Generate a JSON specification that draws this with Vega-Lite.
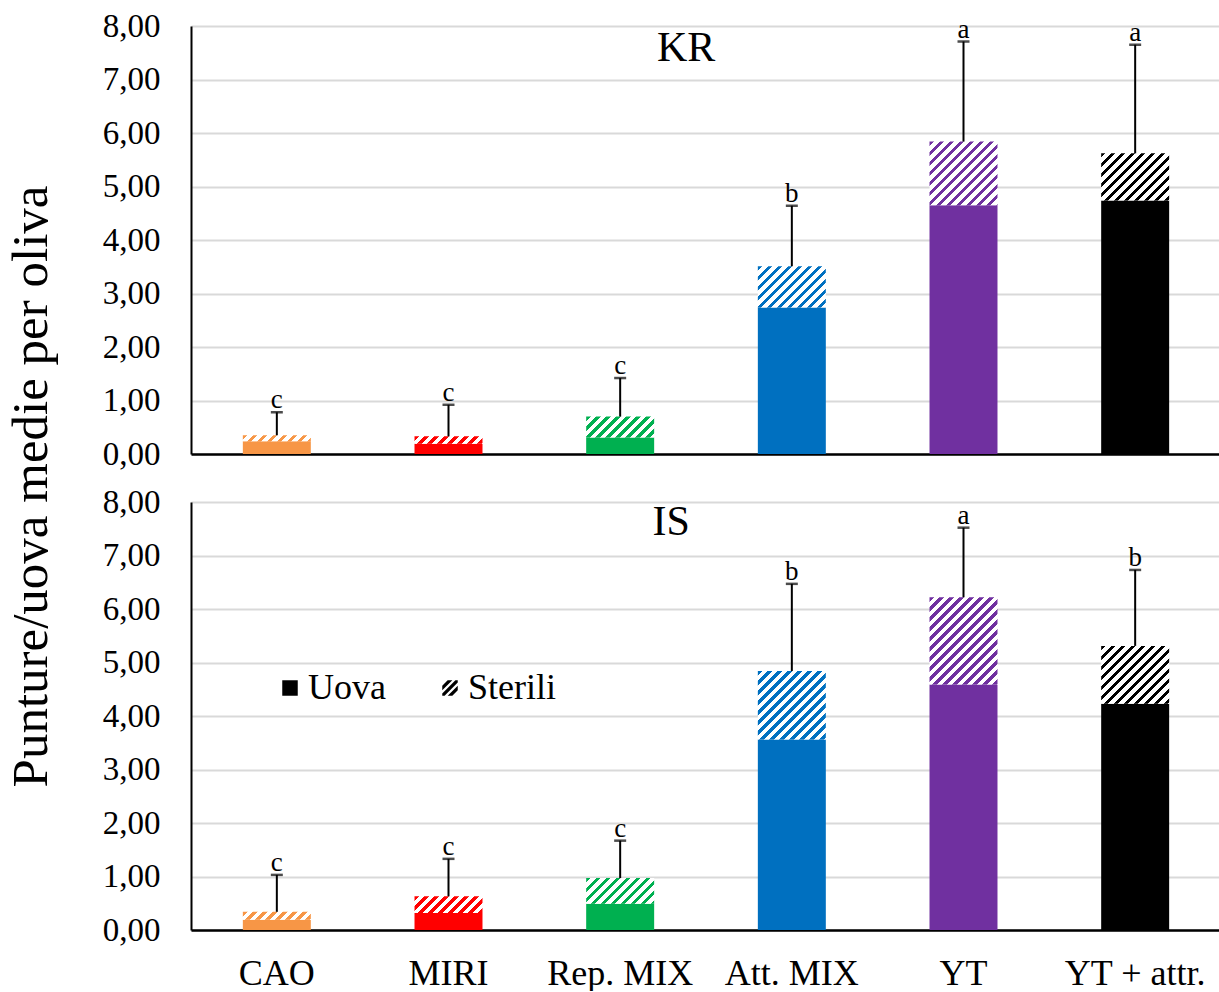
{
"$schema": "https://vega.github.io/schema/vega-lite/v6.json",
"background": "white",
"padding": {"left": 5, "top": 10, "right": 0, "bottom": 0},
"bounds": "flush",
"spacing": 48,
"config": {
  "font": "Liberation Serif",
  "view": {"stroke": null},
  "axis": {"labelFont": "Liberation Serif", "titleFont": "Liberation Serif", "labelColor": "black", "titleColor": "black"},
  "legend": {"labelFont": "Liberation Serif"}
},
"data": {"values": [
  {"panel": "KR", "treatment": "CAO", "uova": 0.24, "totale": 0.35, "errore": 0.78, "lettera": "c"},
  {"panel": "KR", "treatment": "MIRI", "uova": 0.19, "totale": 0.33, "errore": 0.92, "lettera": "c"},
  {"panel": "KR", "treatment": "Rep. MIX", "uova": 0.31, "totale": 0.70, "errore": 1.42, "lettera": "c"},
  {"panel": "KR", "treatment": "Att. MIX", "uova": 2.74, "totale": 3.51, "errore": 4.64, "lettera": "b"},
  {"panel": "KR", "treatment": "YT", "uova": 4.65, "totale": 5.84, "errore": 7.71, "lettera": "a"},
  {"panel": "KR", "treatment": "YT + attr.", "uova": 4.74, "totale": 5.62, "errore": 7.65, "lettera": "a"},
  {"panel": "IS", "treatment": "CAO", "uova": 0.19, "totale": 0.34, "errore": 1.03, "lettera": "c"},
  {"panel": "IS", "treatment": "MIRI", "uova": 0.32, "totale": 0.63, "errore": 1.33, "lettera": "c"},
  {"panel": "IS", "treatment": "Rep. MIX", "uova": 0.49, "totale": 0.97, "errore": 1.67, "lettera": "c"},
  {"panel": "IS", "treatment": "Att. MIX", "uova": 3.56, "totale": 4.84, "errore": 6.47, "lettera": "b"},
  {"panel": "IS", "treatment": "YT", "uova": 4.59, "totale": 6.22, "errore": 7.52, "lettera": "a"},
  {"panel": "IS", "treatment": "YT + attr.", "uova": 4.23, "totale": 5.31, "errore": 6.73, "lettera": "b"}
]},
"vconcat": [
{
  "width": 1030, "height": 428,
  "transform": [{"filter": "datum.panel === 'KR'"}],
  "encoding": {
    "x": {"field": "treatment", "type": "nominal", "sort": ["CAO", "MIRI", "Rep. MIX", "Att. MIX", "YT", "YT + attr."],
          "scale": {"paddingInner": 0.604, "paddingOuter": 0.302},
          "axis": {"labels": false, "ticks": false, "title": null, "domainColor": "black", "domainWidth": 2.5, "grid": false}}
  },
  "layer": [
    {"mark": {"type": "bar", "stroke": null},
     "encoding": {
       "y": {"field": "uova", "type": "quantitative", "scale": {"domain": [0, 8], "nice": false},
             "axis": {"values": [0, 1, 2, 3, 4, 5, 6, 7, 8], "labelExpr": "replace(format(datum.value, '.2f'), '.', ',')",
                      "labelFont": "Liberation Serif", "labelFontSize": 33, "labelPadding": 31, "ticks": false, "domainColor": "black", "domainWidth": 2,
                      "gridColor": "#d9d9d9", "gridWidth": 2, "title": "Punture/uova medie per oliva", "titleFont": "Liberation Serif", "titleFontSize": 51,
                      "titleFontWeight": "normal", "titlePadding": 45, "titleY": 460}},
       "fill": {"field": "treatment", "type": "nominal",
                "scale": {"domain": ["CAO", "MIRI", "Rep. MIX", "Att. MIX", "YT", "YT + attr."], "range": ["#F79646", "#FF0000", "#00B050", "#0070C0", "#7030A0", "#000000"]},
                "legend": null}
     }},
    {"mark": {"type": "bar", "stroke": null},
     "encoding": {
       "y": {"field": "uova", "type": "quantitative"},
       "y2": {"field": "totale"},
       "fill": {"condition": [
         {"test": "datum.treatment === 'CAO'", "value": {"gradient": "linear", "x1": 0, "y1": 0, "x2": 2.3355, "y2": 0.2021, "stops": [
{"offset":0,"color":"#F79646"},{"offset":0.028,"color":"#F79646"},{"offset":0.028,"color":"#fff"},{"offset":0.0625,"color":"#fff"},
{"offset":0.0625,"color":"#F79646"},{"offset":0.0905,"color":"#F79646"},{"offset":0.0905,"color":"#fff"},{"offset":0.125,"color":"#fff"},
{"offset":0.125,"color":"#F79646"},{"offset":0.153,"color":"#F79646"},{"offset":0.153,"color":"#fff"},{"offset":0.1875,"color":"#fff"},
{"offset":0.1875,"color":"#F79646"},{"offset":0.2155,"color":"#F79646"},{"offset":0.2155,"color":"#fff"},{"offset":0.25,"color":"#fff"},
{"offset":0.25,"color":"#F79646"},{"offset":0.278,"color":"#F79646"},{"offset":0.278,"color":"#fff"},{"offset":0.3125,"color":"#fff"},
{"offset":0.3125,"color":"#F79646"},{"offset":0.3405,"color":"#F79646"},{"offset":0.3405,"color":"#fff"},{"offset":0.375,"color":"#fff"},
{"offset":0.375,"color":"#F79646"},{"offset":0.403,"color":"#F79646"},{"offset":0.403,"color":"#fff"},{"offset":0.4375,"color":"#fff"},
{"offset":0.4375,"color":"#F79646"},{"offset":0.4655,"color":"#F79646"},{"offset":0.4655,"color":"#fff"},{"offset":0.5,"color":"#fff"},
{"offset":0.5,"color":"#F79646"},{"offset":0.528,"color":"#F79646"},{"offset":0.528,"color":"#fff"},{"offset":0.5625,"color":"#fff"}
         ]}},
         {"test": "datum.treatment === 'MIRI'", "value": {"gradient": "linear", "x1": 0, "y1": 0, "x2": 2.3247, "y2": 0.2561, "stops": [
{"offset":0,"color":"#FF0000"},{"offset":0.028,"color":"#FF0000"},{"offset":0.028,"color":"#fff"},{"offset":0.0625,"color":"#fff"},
{"offset":0.0625,"color":"#FF0000"},{"offset":0.0905,"color":"#FF0000"},{"offset":0.0905,"color":"#fff"},{"offset":0.125,"color":"#fff"},
{"offset":0.125,"color":"#FF0000"},{"offset":0.153,"color":"#FF0000"},{"offset":0.153,"color":"#fff"},{"offset":0.1875,"color":"#fff"},
{"offset":0.1875,"color":"#FF0000"},{"offset":0.2155,"color":"#FF0000"},{"offset":0.2155,"color":"#fff"},{"offset":0.25,"color":"#fff"},
{"offset":0.25,"color":"#FF0000"},{"offset":0.278,"color":"#FF0000"},{"offset":0.278,"color":"#fff"},{"offset":0.3125,"color":"#fff"},
{"offset":0.3125,"color":"#FF0000"},{"offset":0.3405,"color":"#FF0000"},{"offset":0.3405,"color":"#fff"},{"offset":0.375,"color":"#fff"},
{"offset":0.375,"color":"#FF0000"},{"offset":0.403,"color":"#FF0000"},{"offset":0.403,"color":"#fff"},{"offset":0.4375,"color":"#fff"},
{"offset":0.4375,"color":"#FF0000"},{"offset":0.4655,"color":"#FF0000"},{"offset":0.4655,"color":"#fff"},{"offset":0.5,"color":"#fff"},
{"offset":0.5,"color":"#FF0000"},{"offset":0.528,"color":"#FF0000"},{"offset":0.528,"color":"#fff"},{"offset":0.5625,"color":"#fff"}
         ]}},
         {"test": "datum.treatment === 'Rep. MIX'", "value": {"gradient": "linear", "x1": 0, "y1": 0, "x2": 2.1505, "y2": 0.6599, "stops": [
{"offset":0,"color":"#00B050"},{"offset":0.028,"color":"#00B050"},{"offset":0.028,"color":"#fff"},{"offset":0.0625,"color":"#fff"},
{"offset":0.0625,"color":"#00B050"},{"offset":0.0905,"color":"#00B050"},{"offset":0.0905,"color":"#fff"},{"offset":0.125,"color":"#fff"},
{"offset":0.125,"color":"#00B050"},{"offset":0.153,"color":"#00B050"},{"offset":0.153,"color":"#fff"},{"offset":0.1875,"color":"#fff"},
{"offset":0.1875,"color":"#00B050"},{"offset":0.2155,"color":"#00B050"},{"offset":0.2155,"color":"#fff"},{"offset":0.25,"color":"#fff"},
{"offset":0.25,"color":"#00B050"},{"offset":0.278,"color":"#00B050"},{"offset":0.278,"color":"#fff"},{"offset":0.3125,"color":"#fff"},
{"offset":0.3125,"color":"#00B050"},{"offset":0.3405,"color":"#00B050"},{"offset":0.3405,"color":"#fff"},{"offset":0.375,"color":"#fff"},
{"offset":0.375,"color":"#00B050"},{"offset":0.403,"color":"#00B050"},{"offset":0.403,"color":"#fff"},{"offset":0.4375,"color":"#fff"},
{"offset":0.4375,"color":"#00B050"},{"offset":0.4655,"color":"#00B050"},{"offset":0.4655,"color":"#fff"},{"offset":0.5,"color":"#fff"},
{"offset":0.5,"color":"#00B050"},{"offset":0.528,"color":"#00B050"},{"offset":0.528,"color":"#fff"},{"offset":0.5625,"color":"#fff"},
{"offset":0.5625,"color":"#00B050"},{"offset":0.5905,"color":"#00B050"},{"offset":0.5905,"color":"#fff"},{"offset":0.625,"color":"#fff"}
         ]}},
         {"test": "datum.treatment === 'Att. MIX'", "value": {"gradient": "linear", "x1": 0, "y1": 0, "x2": 1.7212, "y2": 1.0427, "stops": [
{"offset":0,"color":"#0070C0"},{"offset":0.028,"color":"#0070C0"},{"offset":0.028,"color":"#fff"},{"offset":0.0625,"color":"#fff"},
{"offset":0.0625,"color":"#0070C0"},{"offset":0.0905,"color":"#0070C0"},{"offset":0.0905,"color":"#fff"},{"offset":0.125,"color":"#fff"},
{"offset":0.125,"color":"#0070C0"},{"offset":0.153,"color":"#0070C0"},{"offset":0.153,"color":"#fff"},{"offset":0.1875,"color":"#fff"},
{"offset":0.1875,"color":"#0070C0"},{"offset":0.2155,"color":"#0070C0"},{"offset":0.2155,"color":"#fff"},{"offset":0.25,"color":"#fff"},
{"offset":0.25,"color":"#0070C0"},{"offset":0.278,"color":"#0070C0"},{"offset":0.278,"color":"#fff"},{"offset":0.3125,"color":"#fff"},
{"offset":0.3125,"color":"#0070C0"},{"offset":0.3405,"color":"#0070C0"},{"offset":0.3405,"color":"#fff"},{"offset":0.375,"color":"#fff"},
{"offset":0.375,"color":"#0070C0"},{"offset":0.403,"color":"#0070C0"},{"offset":0.403,"color":"#fff"},{"offset":0.4375,"color":"#fff"},
{"offset":0.4375,"color":"#0070C0"},{"offset":0.4655,"color":"#0070C0"},{"offset":0.4655,"color":"#fff"},{"offset":0.5,"color":"#fff"},
{"offset":0.5,"color":"#0070C0"},{"offset":0.528,"color":"#0070C0"},{"offset":0.528,"color":"#fff"},{"offset":0.5625,"color":"#fff"},
{"offset":0.5625,"color":"#0070C0"},{"offset":0.5905,"color":"#0070C0"},{"offset":0.5905,"color":"#fff"},{"offset":0.625,"color":"#fff"},
{"offset":0.625,"color":"#0070C0"},{"offset":0.653,"color":"#0070C0"},{"offset":0.653,"color":"#fff"},{"offset":0.6875,"color":"#fff"},
{"offset":0.6875,"color":"#0070C0"},{"offset":0.7155,"color":"#0070C0"},{"offset":0.7155,"color":"#fff"},{"offset":0.75,"color":"#fff"}
         ]}},
         {"test": "datum.treatment === 'YT'", "value": {"gradient": "linear", "x1": 0, "y1": 0, "x2": 1.2539, "y2": 1.1739, "stops": [
{"offset":0,"color":"#7030A0"},{"offset":0.028,"color":"#7030A0"},{"offset":0.028,"color":"#fff"},{"offset":0.0625,"color":"#fff"},
{"offset":0.0625,"color":"#7030A0"},{"offset":0.0905,"color":"#7030A0"},{"offset":0.0905,"color":"#fff"},{"offset":0.125,"color":"#fff"},
{"offset":0.125,"color":"#7030A0"},{"offset":0.153,"color":"#7030A0"},{"offset":0.153,"color":"#fff"},{"offset":0.1875,"color":"#fff"},
{"offset":0.1875,"color":"#7030A0"},{"offset":0.2155,"color":"#7030A0"},{"offset":0.2155,"color":"#fff"},{"offset":0.25,"color":"#fff"},
{"offset":0.25,"color":"#7030A0"},{"offset":0.278,"color":"#7030A0"},{"offset":0.278,"color":"#fff"},{"offset":0.3125,"color":"#fff"},
{"offset":0.3125,"color":"#7030A0"},{"offset":0.3405,"color":"#7030A0"},{"offset":0.3405,"color":"#fff"},{"offset":0.375,"color":"#fff"},
{"offset":0.375,"color":"#7030A0"},{"offset":0.403,"color":"#7030A0"},{"offset":0.403,"color":"#fff"},{"offset":0.4375,"color":"#fff"},
{"offset":0.4375,"color":"#7030A0"},{"offset":0.4655,"color":"#7030A0"},{"offset":0.4655,"color":"#fff"},{"offset":0.5,"color":"#fff"},
{"offset":0.5,"color":"#7030A0"},{"offset":0.528,"color":"#7030A0"},{"offset":0.528,"color":"#fff"},{"offset":0.5625,"color":"#fff"},
{"offset":0.5625,"color":"#7030A0"},{"offset":0.5905,"color":"#7030A0"},{"offset":0.5905,"color":"#fff"},{"offset":0.625,"color":"#fff"},
{"offset":0.625,"color":"#7030A0"},{"offset":0.653,"color":"#7030A0"},{"offset":0.653,"color":"#fff"},{"offset":0.6875,"color":"#fff"},
{"offset":0.6875,"color":"#7030A0"},{"offset":0.7155,"color":"#7030A0"},{"offset":0.7155,"color":"#fff"},{"offset":0.75,"color":"#fff"},
{"offset":0.75,"color":"#7030A0"},{"offset":0.778,"color":"#7030A0"},{"offset":0.778,"color":"#fff"},{"offset":0.8125,"color":"#fff"},
{"offset":0.8125,"color":"#7030A0"},{"offset":0.8405,"color":"#7030A0"},{"offset":0.8405,"color":"#fff"},{"offset":0.875,"color":"#fff"},
{"offset":0.875,"color":"#7030A0"},{"offset":0.903,"color":"#7030A0"},{"offset":0.903,"color":"#fff"},{"offset":0.9375,"color":"#fff"}
         ]}},
         {"test": "datum.treatment === 'YT + attr.'", "value": {"gradient": "linear", "x1": 0, "y1": 0, "x2": 1.5905, "y2": 1.1012, "stops": [
{"offset":0,"color":"#000000"},{"offset":0.028,"color":"#000000"},{"offset":0.028,"color":"#fff"},{"offset":0.0625,"color":"#fff"},
{"offset":0.0625,"color":"#000000"},{"offset":0.0905,"color":"#000000"},{"offset":0.0905,"color":"#fff"},{"offset":0.125,"color":"#fff"},
{"offset":0.125,"color":"#000000"},{"offset":0.153,"color":"#000000"},{"offset":0.153,"color":"#fff"},{"offset":0.1875,"color":"#fff"},
{"offset":0.1875,"color":"#000000"},{"offset":0.2155,"color":"#000000"},{"offset":0.2155,"color":"#fff"},{"offset":0.25,"color":"#fff"},
{"offset":0.25,"color":"#000000"},{"offset":0.278,"color":"#000000"},{"offset":0.278,"color":"#fff"},{"offset":0.3125,"color":"#fff"},
{"offset":0.3125,"color":"#000000"},{"offset":0.3405,"color":"#000000"},{"offset":0.3405,"color":"#fff"},{"offset":0.375,"color":"#fff"},
{"offset":0.375,"color":"#000000"},{"offset":0.403,"color":"#000000"},{"offset":0.403,"color":"#fff"},{"offset":0.4375,"color":"#fff"},
{"offset":0.4375,"color":"#000000"},{"offset":0.4655,"color":"#000000"},{"offset":0.4655,"color":"#fff"},{"offset":0.5,"color":"#fff"},
{"offset":0.5,"color":"#000000"},{"offset":0.528,"color":"#000000"},{"offset":0.528,"color":"#fff"},{"offset":0.5625,"color":"#fff"},
{"offset":0.5625,"color":"#000000"},{"offset":0.5905,"color":"#000000"},{"offset":0.5905,"color":"#fff"},{"offset":0.625,"color":"#fff"},
{"offset":0.625,"color":"#000000"},{"offset":0.653,"color":"#000000"},{"offset":0.653,"color":"#fff"},{"offset":0.6875,"color":"#fff"},
{"offset":0.6875,"color":"#000000"},{"offset":0.7155,"color":"#000000"},{"offset":0.7155,"color":"#fff"},{"offset":0.75,"color":"#fff"},
{"offset":0.75,"color":"#000000"},{"offset":0.778,"color":"#000000"},{"offset":0.778,"color":"#fff"},{"offset":0.8125,"color":"#fff"}
         ]}}
       ], "value": "white"}
     }},
    {"mark": {"type": "rule", "color": "black", "strokeWidth": 2},
     "encoding": {"y": {"field": "totale", "type": "quantitative"}, "y2": {"field": "errore"}}},
    {"mark": {"type": "tick", "color": "black", "size": 12, "thickness": 2.5},
     "encoding": {"y": {"field": "errore", "type": "quantitative"}}},
    {"mark": {"type": "text", "font": "Liberation Serif", "fontSize": 27, "baseline": "alphabetic", "dy": -4, "color": "black"},
     "encoding": {"y": {"field": "errore", "type": "quantitative"}, "text": {"field": "lettera"}}},
    {"transform": [{"filter": "datum.treatment === 'CAO'"}],
     "mark": {"type": "text", "font": "Liberation Serif", "fontSize": 42, "align": "center", "baseline": "alphabetic", "dx": 66, "color": "black"},
     "encoding": {"x": {"datum": "Rep. MIX"}, "y": {"datum": 7.35}, "text": {"value": "KR"}}}
  ]
},
{
  "width": 1030, "height": 428,
  "transform": [{"filter": "datum.panel === 'IS'"}],
  "encoding": {
    "x": {"field": "treatment", "type": "nominal", "sort": ["CAO", "MIRI", "Rep. MIX", "Att. MIX", "YT", "YT + attr."],
          "scale": {"paddingInner": 0.604, "paddingOuter": 0.302},
          "axis": {"labelFont": "Liberation Serif", "labelFontSize": 36, "labelPadding": 26, "labelAngle": 0, "ticks": false, "title": null, "domainColor": "black", "domainWidth": 2.5, "grid": false}}
  },
  "layer": [
    {"mark": {"type": "bar", "stroke": null},
     "encoding": {
       "y": {"field": "uova", "type": "quantitative", "scale": {"domain": [0, 8], "nice": false},
             "axis": {"values": [0, 1, 2, 3, 4, 5, 6, 7, 8], "labelExpr": "replace(format(datum.value, '.2f'), '.', ',')",
                      "labelFont": "Liberation Serif", "labelFontSize": 33, "labelPadding": 31, "ticks": false, "domainColor": "black", "domainWidth": 2,
                      "gridColor": "#d9d9d9", "gridWidth": 2, "title": null}},
       "fill": {"field": "treatment", "type": "nominal",
                "scale": {"domain": ["CAO", "MIRI", "Rep. MIX", "Att. MIX", "YT", "YT + attr."], "range": ["#F79646", "#FF0000", "#00B050", "#0070C0", "#7030A0", "#000000"]},
                "legend": null}
     }},
    {"mark": {"type": "bar", "stroke": null},
     "encoding": {
       "y": {"field": "uova", "type": "quantitative"},
       "y2": {"field": "totale"},
       "fill": {"condition": [
         {"test": "datum.treatment === 'CAO'", "value": {"gradient": "linear", "x1": 0, "y1": 0, "x2": 2.3206, "y2": 0.2739, "stops": [
{"offset":0,"color":"#F79646"},{"offset":0.028,"color":"#F79646"},{"offset":0.028,"color":"#fff"},{"offset":0.0625,"color":"#fff"},
{"offset":0.0625,"color":"#F79646"},{"offset":0.0905,"color":"#F79646"},{"offset":0.0905,"color":"#fff"},{"offset":0.125,"color":"#fff"},
{"offset":0.125,"color":"#F79646"},{"offset":0.153,"color":"#F79646"},{"offset":0.153,"color":"#fff"},{"offset":0.1875,"color":"#fff"},
{"offset":0.1875,"color":"#F79646"},{"offset":0.2155,"color":"#F79646"},{"offset":0.2155,"color":"#fff"},{"offset":0.25,"color":"#fff"},
{"offset":0.25,"color":"#F79646"},{"offset":0.278,"color":"#F79646"},{"offset":0.278,"color":"#fff"},{"offset":0.3125,"color":"#fff"},
{"offset":0.3125,"color":"#F79646"},{"offset":0.3405,"color":"#F79646"},{"offset":0.3405,"color":"#fff"},{"offset":0.375,"color":"#fff"},
{"offset":0.375,"color":"#F79646"},{"offset":0.403,"color":"#F79646"},{"offset":0.403,"color":"#fff"},{"offset":0.4375,"color":"#fff"},
{"offset":0.4375,"color":"#F79646"},{"offset":0.4655,"color":"#F79646"},{"offset":0.4655,"color":"#fff"},{"offset":0.5,"color":"#fff"},
{"offset":0.5,"color":"#F79646"},{"offset":0.528,"color":"#F79646"},{"offset":0.528,"color":"#fff"},{"offset":0.5625,"color":"#fff"}
         ]}},
         {"test": "datum.treatment === 'MIRI'", "value": {"gradient": "linear", "x1": 0, "y1": 0, "x2": 2.2209, "y2": 0.5417, "stops": [
{"offset":0,"color":"#FF0000"},{"offset":0.028,"color":"#FF0000"},{"offset":0.028,"color":"#fff"},{"offset":0.0625,"color":"#fff"},
{"offset":0.0625,"color":"#FF0000"},{"offset":0.0905,"color":"#FF0000"},{"offset":0.0905,"color":"#fff"},{"offset":0.125,"color":"#fff"},
{"offset":0.125,"color":"#FF0000"},{"offset":0.153,"color":"#FF0000"},{"offset":0.153,"color":"#fff"},{"offset":0.1875,"color":"#fff"},
{"offset":0.1875,"color":"#FF0000"},{"offset":0.2155,"color":"#FF0000"},{"offset":0.2155,"color":"#fff"},{"offset":0.25,"color":"#fff"},
{"offset":0.25,"color":"#FF0000"},{"offset":0.278,"color":"#FF0000"},{"offset":0.278,"color":"#fff"},{"offset":0.3125,"color":"#fff"},
{"offset":0.3125,"color":"#FF0000"},{"offset":0.3405,"color":"#FF0000"},{"offset":0.3405,"color":"#fff"},{"offset":0.375,"color":"#fff"},
{"offset":0.375,"color":"#FF0000"},{"offset":0.403,"color":"#FF0000"},{"offset":0.403,"color":"#fff"},{"offset":0.4375,"color":"#fff"},
{"offset":0.4375,"color":"#FF0000"},{"offset":0.4655,"color":"#FF0000"},{"offset":0.4655,"color":"#fff"},{"offset":0.5,"color":"#fff"},
{"offset":0.5,"color":"#FF0000"},{"offset":0.528,"color":"#FF0000"},{"offset":0.528,"color":"#fff"},{"offset":0.5625,"color":"#fff"},
{"offset":0.5625,"color":"#FF0000"},{"offset":0.5905,"color":"#FF0000"},{"offset":0.5905,"color":"#fff"},{"offset":0.625,"color":"#fff"}
         ]}},
         {"test": "datum.treatment === 'Rep. MIX'", "value": {"gradient": "linear", "x1": 0, "y1": 0, "x2": 2.0592, "y2": 0.7777, "stops": [
{"offset":0,"color":"#00B050"},{"offset":0.028,"color":"#00B050"},{"offset":0.028,"color":"#fff"},{"offset":0.0625,"color":"#fff"},
{"offset":0.0625,"color":"#00B050"},{"offset":0.0905,"color":"#00B050"},{"offset":0.0905,"color":"#fff"},{"offset":0.125,"color":"#fff"},
{"offset":0.125,"color":"#00B050"},{"offset":0.153,"color":"#00B050"},{"offset":0.153,"color":"#fff"},{"offset":0.1875,"color":"#fff"},
{"offset":0.1875,"color":"#00B050"},{"offset":0.2155,"color":"#00B050"},{"offset":0.2155,"color":"#fff"},{"offset":0.25,"color":"#fff"},
{"offset":0.25,"color":"#00B050"},{"offset":0.278,"color":"#00B050"},{"offset":0.278,"color":"#fff"},{"offset":0.3125,"color":"#fff"},
{"offset":0.3125,"color":"#00B050"},{"offset":0.3405,"color":"#00B050"},{"offset":0.3405,"color":"#fff"},{"offset":0.375,"color":"#fff"},
{"offset":0.375,"color":"#00B050"},{"offset":0.403,"color":"#00B050"},{"offset":0.403,"color":"#fff"},{"offset":0.4375,"color":"#fff"},
{"offset":0.4375,"color":"#00B050"},{"offset":0.4655,"color":"#00B050"},{"offset":0.4655,"color":"#fff"},{"offset":0.5,"color":"#fff"},
{"offset":0.5,"color":"#00B050"},{"offset":0.528,"color":"#00B050"},{"offset":0.528,"color":"#fff"},{"offset":0.5625,"color":"#fff"},
{"offset":0.5625,"color":"#00B050"},{"offset":0.5905,"color":"#00B050"},{"offset":0.5905,"color":"#fff"},{"offset":0.625,"color":"#fff"},
{"offset":0.625,"color":"#00B050"},{"offset":0.653,"color":"#00B050"},{"offset":0.653,"color":"#fff"},{"offset":0.6875,"color":"#fff"}
         ]}},
         {"test": "datum.treatment === 'Att. MIX'", "value": {"gradient": "linear", "x1": 0, "y1": 0, "x2": 1.1682, "y2": 1.1764, "stops": [
{"offset":0,"color":"#0070C0"},{"offset":0.028,"color":"#0070C0"},{"offset":0.028,"color":"#fff"},{"offset":0.0625,"color":"#fff"},
{"offset":0.0625,"color":"#0070C0"},{"offset":0.0905,"color":"#0070C0"},{"offset":0.0905,"color":"#fff"},{"offset":0.125,"color":"#fff"},
{"offset":0.125,"color":"#0070C0"},{"offset":0.153,"color":"#0070C0"},{"offset":0.153,"color":"#fff"},{"offset":0.1875,"color":"#fff"},
{"offset":0.1875,"color":"#0070C0"},{"offset":0.2155,"color":"#0070C0"},{"offset":0.2155,"color":"#fff"},{"offset":0.25,"color":"#fff"},
{"offset":0.25,"color":"#0070C0"},{"offset":0.278,"color":"#0070C0"},{"offset":0.278,"color":"#fff"},{"offset":0.3125,"color":"#fff"},
{"offset":0.3125,"color":"#0070C0"},{"offset":0.3405,"color":"#0070C0"},{"offset":0.3405,"color":"#fff"},{"offset":0.375,"color":"#fff"},
{"offset":0.375,"color":"#0070C0"},{"offset":0.403,"color":"#0070C0"},{"offset":0.403,"color":"#fff"},{"offset":0.4375,"color":"#fff"},
{"offset":0.4375,"color":"#0070C0"},{"offset":0.4655,"color":"#0070C0"},{"offset":0.4655,"color":"#fff"},{"offset":0.5,"color":"#fff"},
{"offset":0.5,"color":"#0070C0"},{"offset":0.528,"color":"#0070C0"},{"offset":0.528,"color":"#fff"},{"offset":0.5625,"color":"#fff"},
{"offset":0.5625,"color":"#0070C0"},{"offset":0.5905,"color":"#0070C0"},{"offset":0.5905,"color":"#fff"},{"offset":0.625,"color":"#fff"},
{"offset":0.625,"color":"#0070C0"},{"offset":0.653,"color":"#0070C0"},{"offset":0.653,"color":"#fff"},{"offset":0.6875,"color":"#fff"},
{"offset":0.6875,"color":"#0070C0"},{"offset":0.7155,"color":"#0070C0"},{"offset":0.7155,"color":"#fff"},{"offset":0.75,"color":"#fff"},
{"offset":0.75,"color":"#0070C0"},{"offset":0.778,"color":"#0070C0"},{"offset":0.778,"color":"#fff"},{"offset":0.8125,"color":"#fff"},
{"offset":0.8125,"color":"#0070C0"},{"offset":0.8405,"color":"#0070C0"},{"offset":0.8405,"color":"#fff"},{"offset":0.875,"color":"#fff"},
{"offset":0.875,"color":"#0070C0"},{"offset":0.903,"color":"#0070C0"},{"offset":0.903,"color":"#fff"},{"offset":0.9375,"color":"#fff"}
         ]}},
         {"test": "datum.treatment === 'YT'", "value": {"gradient": "linear", "x1": 0, "y1": 0, "x2": 0.8897, "y2": 1.141, "stops": [
{"offset":0,"color":"#7030A0"},{"offset":0.028,"color":"#7030A0"},{"offset":0.028,"color":"#fff"},{"offset":0.0625,"color":"#fff"},
{"offset":0.0625,"color":"#7030A0"},{"offset":0.0905,"color":"#7030A0"},{"offset":0.0905,"color":"#fff"},{"offset":0.125,"color":"#fff"},
{"offset":0.125,"color":"#7030A0"},{"offset":0.153,"color":"#7030A0"},{"offset":0.153,"color":"#fff"},{"offset":0.1875,"color":"#fff"},
{"offset":0.1875,"color":"#7030A0"},{"offset":0.2155,"color":"#7030A0"},{"offset":0.2155,"color":"#fff"},{"offset":0.25,"color":"#fff"},
{"offset":0.25,"color":"#7030A0"},{"offset":0.278,"color":"#7030A0"},{"offset":0.278,"color":"#fff"},{"offset":0.3125,"color":"#fff"},
{"offset":0.3125,"color":"#7030A0"},{"offset":0.3405,"color":"#7030A0"},{"offset":0.3405,"color":"#fff"},{"offset":0.375,"color":"#fff"},
{"offset":0.375,"color":"#7030A0"},{"offset":0.403,"color":"#7030A0"},{"offset":0.403,"color":"#fff"},{"offset":0.4375,"color":"#fff"},
{"offset":0.4375,"color":"#7030A0"},{"offset":0.4655,"color":"#7030A0"},{"offset":0.4655,"color":"#fff"},{"offset":0.5,"color":"#fff"},
{"offset":0.5,"color":"#7030A0"},{"offset":0.528,"color":"#7030A0"},{"offset":0.528,"color":"#fff"},{"offset":0.5625,"color":"#fff"},
{"offset":0.5625,"color":"#7030A0"},{"offset":0.5905,"color":"#7030A0"},{"offset":0.5905,"color":"#fff"},{"offset":0.625,"color":"#fff"},
{"offset":0.625,"color":"#7030A0"},{"offset":0.653,"color":"#7030A0"},{"offset":0.653,"color":"#fff"},{"offset":0.6875,"color":"#fff"},
{"offset":0.6875,"color":"#7030A0"},{"offset":0.7155,"color":"#7030A0"},{"offset":0.7155,"color":"#fff"},{"offset":0.75,"color":"#fff"},
{"offset":0.75,"color":"#7030A0"},{"offset":0.778,"color":"#7030A0"},{"offset":0.778,"color":"#fff"},{"offset":0.8125,"color":"#fff"},
{"offset":0.8125,"color":"#7030A0"},{"offset":0.8405,"color":"#7030A0"},{"offset":0.8405,"color":"#fff"},{"offset":0.875,"color":"#fff"},
{"offset":0.875,"color":"#7030A0"},{"offset":0.903,"color":"#7030A0"},{"offset":0.903,"color":"#fff"},{"offset":0.9375,"color":"#fff"},
{"offset":0.9375,"color":"#7030A0"},{"offset":0.9655,"color":"#7030A0"},{"offset":0.9655,"color":"#fff"},{"offset":1,"color":"#fff"}
         ]}},
         {"test": "datum.treatment === 'YT + attr.'", "value": {"gradient": "linear", "x1": 0, "y1": 0, "x2": 1.3664, "y2": 1.161, "stops": [
{"offset":0,"color":"#000000"},{"offset":0.028,"color":"#000000"},{"offset":0.028,"color":"#fff"},{"offset":0.0625,"color":"#fff"},
{"offset":0.0625,"color":"#000000"},{"offset":0.0905,"color":"#000000"},{"offset":0.0905,"color":"#fff"},{"offset":0.125,"color":"#fff"},
{"offset":0.125,"color":"#000000"},{"offset":0.153,"color":"#000000"},{"offset":0.153,"color":"#fff"},{"offset":0.1875,"color":"#fff"},
{"offset":0.1875,"color":"#000000"},{"offset":0.2155,"color":"#000000"},{"offset":0.2155,"color":"#fff"},{"offset":0.25,"color":"#fff"},
{"offset":0.25,"color":"#000000"},{"offset":0.278,"color":"#000000"},{"offset":0.278,"color":"#fff"},{"offset":0.3125,"color":"#fff"},
{"offset":0.3125,"color":"#000000"},{"offset":0.3405,"color":"#000000"},{"offset":0.3405,"color":"#fff"},{"offset":0.375,"color":"#fff"},
{"offset":0.375,"color":"#000000"},{"offset":0.403,"color":"#000000"},{"offset":0.403,"color":"#fff"},{"offset":0.4375,"color":"#fff"},
{"offset":0.4375,"color":"#000000"},{"offset":0.4655,"color":"#000000"},{"offset":0.4655,"color":"#fff"},{"offset":0.5,"color":"#fff"},
{"offset":0.5,"color":"#000000"},{"offset":0.528,"color":"#000000"},{"offset":0.528,"color":"#fff"},{"offset":0.5625,"color":"#fff"},
{"offset":0.5625,"color":"#000000"},{"offset":0.5905,"color":"#000000"},{"offset":0.5905,"color":"#fff"},{"offset":0.625,"color":"#fff"},
{"offset":0.625,"color":"#000000"},{"offset":0.653,"color":"#000000"},{"offset":0.653,"color":"#fff"},{"offset":0.6875,"color":"#fff"},
{"offset":0.6875,"color":"#000000"},{"offset":0.7155,"color":"#000000"},{"offset":0.7155,"color":"#fff"},{"offset":0.75,"color":"#fff"},
{"offset":0.75,"color":"#000000"},{"offset":0.778,"color":"#000000"},{"offset":0.778,"color":"#fff"},{"offset":0.8125,"color":"#fff"},
{"offset":0.8125,"color":"#000000"},{"offset":0.8405,"color":"#000000"},{"offset":0.8405,"color":"#fff"},{"offset":0.875,"color":"#fff"}
         ]}}
       ], "value": "white"}
     }},
    {"mark": {"type": "rule", "color": "black", "strokeWidth": 2},
     "encoding": {"y": {"field": "totale", "type": "quantitative"}, "y2": {"field": "errore"}}},
    {"mark": {"type": "tick", "color": "black", "size": 12, "thickness": 2.5},
     "encoding": {"y": {"field": "errore", "type": "quantitative"}}},
    {"mark": {"type": "text", "font": "Liberation Serif", "fontSize": 27, "baseline": "alphabetic", "dy": -4, "color": "black"},
     "encoding": {"y": {"field": "errore", "type": "quantitative"}, "text": {"field": "lettera"}}},
    {"transform": [{"filter": "datum.treatment === 'CAO'"}],
     "mark": {"type": "text", "font": "Liberation Serif", "fontSize": 42, "align": "center", "baseline": "alphabetic", "dx": 51, "color": "black"},
     "encoding": {"x": {"datum": "Rep. MIX"}, "y": {"datum": 7.38}, "text": {"value": "IS"}}},
    {"mark": {"type": "point", "filled": true, "color": "black", "opacity": 0},
     "encoding": {
       "y": {"field": "uova", "type": "quantitative"},
       "shape": {"datum": "Uova", "type": "nominal",
                 "scale": {"domain": ["Uova", "Sterili"], "range": ["square", "M-1,-0.3L-0.3,-1L0.3,-1L-1,0.3Z M-1,0.7L0.7,-1L1,-1L1,-0.7L-0.7,1L-1,1Z M-0.3,1L1,-0.3L1,0.3L0.3,1Z"]},
                 "legend": {"orient": "none", "legendX": 81, "legendY": 644, "direction": "horizontal", "title": null, "padding": 0,
                            "labelFont": "Liberation Serif", "labelFontSize": 36, "labelColor": "black", "symbolSize": 240, "symbolStrokeWidth": 0,
                            "symbolFillColor": "black", "symbolOpacity": 1, "columnPadding": 46, "labelOffset": 0}}
     }}
  ]
}
]
}
